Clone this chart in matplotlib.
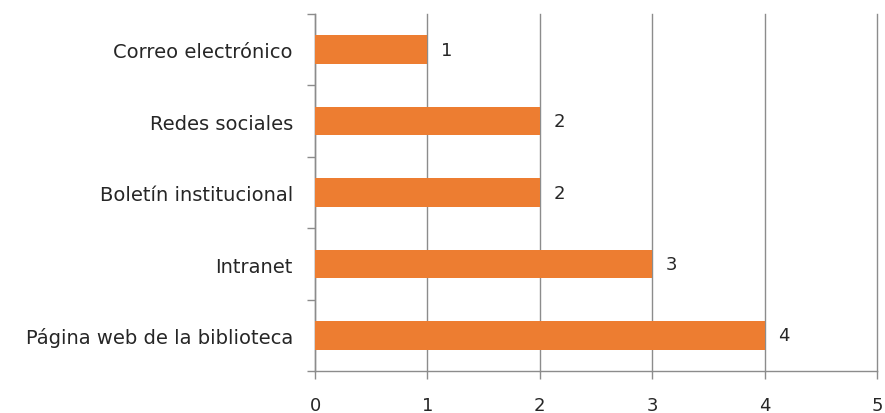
import matplotlib.pyplot as plt
import numpy as np

# data (bottom to top as drawn)
categorias = ['Página web de la biblioteca', 'Intranet', 'Boletín institucional',
              'Redes sociales', 'Correo electrónico']
valores = [4, 3, 2, 2, 1]

plt.rcParams['font.family'] = ['DejaVu Sans']

fig = plt.figure(figsize=(8.85, 4.14), dpi=100)
ax = fig.add_axes([0.356, 0.101, 0.635, 0.863])

y = np.arange(len(categorias))
bars = ax.barh(y, valores, height=0.4, color='#ED7D31', zorder=3)

for b, v in zip(bars, valores):
    ax.annotate(str(v), (b.get_width(), b.get_y() + b.get_height() / 2),
                xytext=(10, 0), textcoords='offset points', va='center',
                ha='left', fontsize=13, color='#262626')

ax.set_xlim(0, 5)
ax.set_ylim(-0.5, len(categorias) - 0.5)
ax.set_xticks(range(0, 6))
ax.tick_params(axis='x', length=6, width=1, color='#8c8c8c', labelsize=13,
               labelcolor='#262626', pad=12)
ax.grid(axis='x', color='#8c8c8c', linewidth=1, zorder=0)
for gl in ax.get_xgridlines():
    gl.set_clip_on(False)

# categories between ticks on y axis
ax.set_yticks(y)
ax.set_yticklabels(categorias, fontsize=14, color='#262626')
ax.tick_params(axis='y', length=0, pad=16)
ax.set_yticks(np.arange(-0.5, len(categorias), 1), minor=True)
ax.tick_params(axis='y', which='minor', length=6, width=1, color='#8c8c8c')

for s in ['top', 'right']:
    ax.spines[s].set_visible(False)
for s in ['left', 'bottom']:
    ax.spines[s].set_color('#8c8c8c')
    ax.spines[s].set_linewidth(1)

plt.savefig('out.png', dpi=100)
